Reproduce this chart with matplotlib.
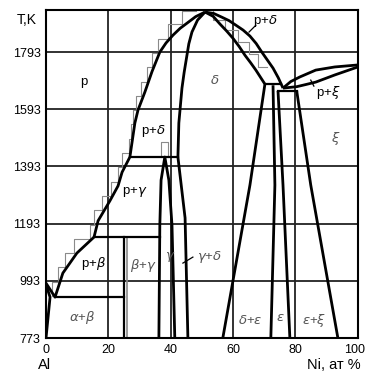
import numpy as np
import matplotlib.pyplot as plt
import matplotlib.transforms as mtransforms

plt.rcParams['font.family'] = ['Liberation Sans', 'DejaVu Sans']

# axes ticks
x_ticks = [0, 20, 40, 60, 80, 100]
y_ticks = [793, 993, 1193, 1393, 1593, 1793]
y_tick_labels = ['773', '993', '1193', '1393', '1593', '1793']

# phase boundaries (Ni at.%, K)
liq_left_x = [0, 2.9, 5.4, 9.9, 15.4, 16.7, 20.5, 23.1, 24.4, 26.9, 28.5, 29.5, 31.7, 34.0, 36.5, 38.5, 40.7, 43.0, 45.2, 48.0, 51.0]
liq_left_y = [985, 936, 1020, 1090, 1146, 1203, 1273, 1325, 1373, 1426, 1545, 1590, 1653, 1725, 1793, 1825, 1852, 1876, 1894, 1917, 1933]

liq_right_x = [51.0, 53.8, 56.4, 58.7, 60.9, 63.2, 65.4, 67.4, 69.2, 71.0, 72.8, 74.5, 76.0]
liq_right_y = [1933, 1928, 1915, 1903, 1887, 1870, 1849, 1823, 1793, 1765, 1737, 1703, 1667]

delta_left_x = [51.0, 48.6, 46.8, 45.8, 45.2, 44.3, 43.6, 42.6, 42.3, 44.6, 45.5]
delta_left_y = [1933, 1905, 1863, 1822, 1782, 1722, 1667, 1545, 1426, 1213, 793]

delta_right_x = [51.0, 53.6, 55.8, 57.9, 59.9, 61.9, 63.8, 65.6, 67.3, 70.2, 65.4, 56.7]
delta_right_y = [1933, 1918, 1891, 1867, 1842, 1813, 1782, 1756, 1730, 1681, 1328, 793]

gamma_x = [36.2, 36.5, 36.9, 38.1, 39.4, 40.4, 41.3]
gamma_y = [793, 1188, 1345, 1426, 1345, 1188, 793]

eps_left_x = [72.8, 73.4, 72.1]
eps_left_y = [1677, 1328, 793]
eps_right_x = [74.4, 76.0, 78.2]
eps_right_y = [1657, 1328, 793]
xi_left_x = [80.4, 84.9, 93.6]
xi_left_y = [1657, 1328, 793]

liq_ni_x = [76.0, 78.5, 81.4, 86.5, 92.6, 100]
liq_ni_y = [1667, 1690, 1706, 1730, 1741, 1748]
sol_ni_x = [76.0, 80.4, 83.5, 86.5, 92.6, 100]
sol_ni_y = [1667, 1672, 1680, 1688, 1713, 1741]

# isotherms: (x_start, x_end, T)
isotherms = [(26.9, 42.3, 1426), (15.4, 36.4, 1146), (2.9, 25.0, 936),
             (70.2, 75.4, 1681), (74.4, 80.4, 1657)]

# Al corner
al_x = [0, 1.3, 0]
al_y = [980, 936, 793]

# stepped calculated liquidus (grey)
step_x = [2.0, 3.8, 6.0, 9.0, 14.0, 15.5, 18.0, 21.0, 23.0, 24.5, 26.5, 27.3, 28.0, 28.8, 30.5, 32.5, 34.0, 35.8, 39.0, 43.5, 48.0]
step_y = [940, 990, 1040, 1090, 1140, 1190, 1240, 1290, 1340, 1390, 1440, 1490, 1540, 1590, 1640, 1690, 1740, 1790, 1840, 1890, 1935]
step_r_x = [53.5, 57.5, 61.5, 65.0, 68.0, 71.0]
step_r_y = [1935, 1905, 1870, 1830, 1785, 1740]

labels = [
    ('p', 12.2, 1688, 'k'),
    ('p+$\\delta$', 34.3, 1517, 'k'),
    ('$\\delta$', 54.2, 1695, '#555555'),
    ('p+$\\delta$', 70.2, 1901, 'k'),
    ('p+$\\xi$', 90.4, 1650, 'k'),
    ('$\\xi$', 92.9, 1492, '#555555'),
    ('p+$\\gamma$', 28.5, 1303, 'k'),
    ('p+$\\beta$', 15.4, 1052, 'k'),
    ('$\\beta$+$\\gamma$', 31.1, 1048, '#555555'),
    ('$\\gamma$', 39.7, 1076, '#555555'),
    ('$\\gamma$+$\\delta$', 52.5, 1076, '#555555'),
    ('$\\alpha$+$\\beta$', 11.5, 866, '#555555'),
    ('$\\delta$+$\\epsilon$', 65.4, 856, '#555555'),
    ('$\\epsilon$', 75.0, 863, '#555555'),
    ('$\\epsilon$+$\\xi$', 85.9, 856, '#555555'),
]

fig = plt.figure(figsize=(3.66, 3.71), dpi=100)
ax = fig.add_axes([0.1257, 0.0889, 0.852, 0.884])
ax.set_xlim(0, 100)
ax.set_ylim(793, 1940)

for xv in x_ticks[1:-1]:
    ax.axvline(xv, color='#222222', lw=1.3, zorder=1)
for yv in y_ticks[1:]:
    ax.axhline(yv, color='#222222', lw=1.3, zorder=1)

ax.step(step_x, step_y, where='pre', color='#8a8a8a', lw=0.8, zorder=2)
ax.step(step_r_x, step_r_y, where='pre', color='#8a8a8a', lw=0.8, zorder=2)
ax.plot([26.0, 26.0], [793, 1146], color='#8a8a8a', lw=1.2, zorder=2)
ax.plot([36.9, 36.9, 39.0, 39.0], [1426, 1480, 1480, 1426], color='#8a8a8a', lw=0.8, zorder=2)

lw = 2.0
for xs, ys in [(liq_left_x, liq_left_y), (liq_right_x, liq_right_y),
               (delta_left_x, delta_left_y), (delta_right_x, delta_right_y),
               (gamma_x, gamma_y), (eps_left_x, eps_left_y),
               (eps_right_x, eps_right_y), (xi_left_x, xi_left_y),
               (liq_ni_x, liq_ni_y), (sol_ni_x, sol_ni_y), (al_x, al_y)]:
    ax.plot(xs, ys, color='k', lw=lw, zorder=3, solid_capstyle='butt',
            solid_joinstyle='round')
for x0, x1, t in isotherms:
    ax.plot([x0, x1], [t, t], color='k', lw=1.6, zorder=3)
ax.plot([25.0, 25.0], [793, 1146], color='k', lw=1.6, zorder=3)

# leaders
ax.plot([65.1, 67.3], [1863, 1887], color='k', lw=0.9)
ax.plot([84.9, 85.9], [1695, 1674], color='k', lw=0.9)
ax.plot([43.9, 47.1], [1055, 1076], color='k', lw=0.9)

for txt, x, y, c in labels:
    ax.text(x, y, txt, ha='center', va='center', fontsize=9.5, color=c)

ax.set_xticks(x_ticks)
ax.set_yticks(y_ticks)
ax.set_yticklabels(y_tick_labels)
ax.tick_params(length=0, labelsize=9, pad=4)
last = ax.get_xticklabels()[-1]
last.set_transform(last.get_transform() +
                   mtransforms.ScaledTranslation(-3 / 100, 0, fig.dpi_scale_trans))
for s in ax.spines.values():
    s.set_linewidth(1.5)

fig.text(27 / 366, 1 - 20 / 371, 'T,K', ha='center', va='center', fontsize=10)
fig.text(45 / 366, 1 - 365 / 371, 'Al', ha='center', va='center', fontsize=10.5)
fig.text(361 / 366, 1 - 365 / 371, 'Ni, ат %', ha='right', va='center', fontsize=10.5)

fig.savefig('out.png', dpi=100)
